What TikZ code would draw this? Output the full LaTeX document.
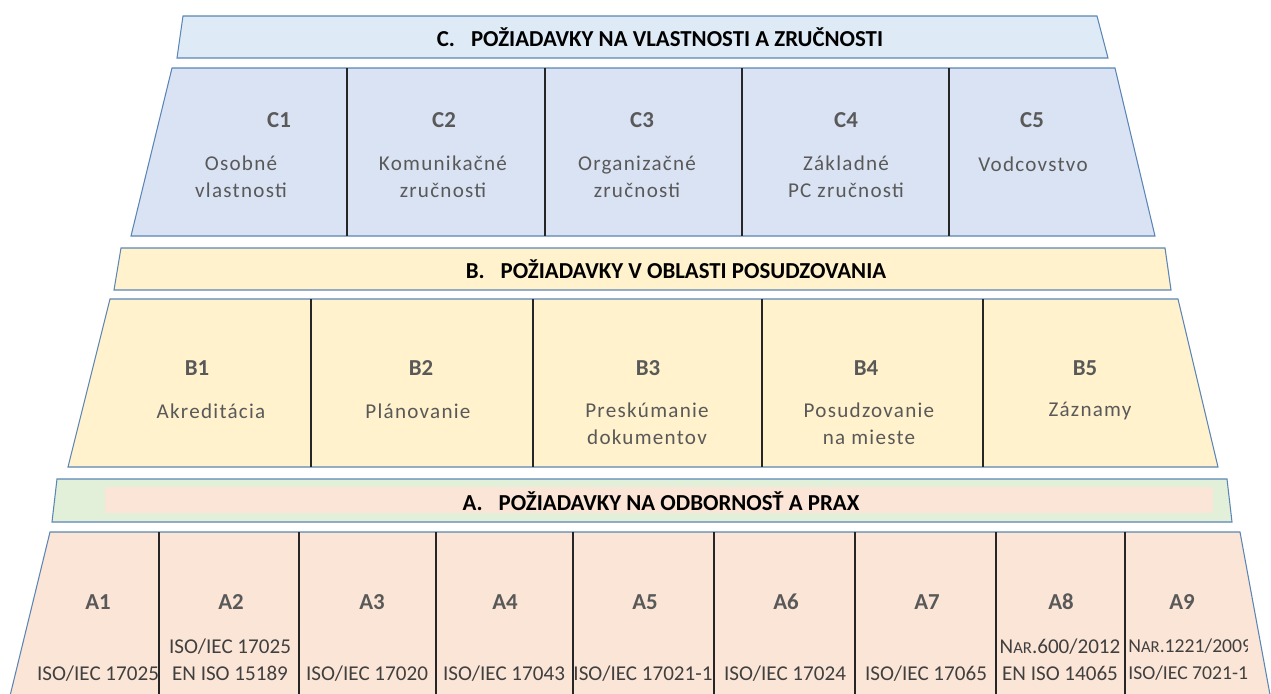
\documentclass[tikz,border=0pt]{standalone}
\usepackage{fontspec}
\setmainfont{Carlito}
\usetikzlibrary{positioning}
\definecolor{hdrC}{HTML}{DEEBF7}
\definecolor{rowC}{HTML}{DAE3F3}
\definecolor{rowB}{HTML}{FFF2CC}
\definecolor{hdrA}{HTML}{E2F0D9}
\definecolor{rowA}{HTML}{FBE5D6}
\definecolor{edge}{HTML}{5B85B5}
\definecolor{txt}{HTML}{595959}
\tikzset{
  band/.style={draw=edge, line width=0.6pt},
  sep/.style={draw=black!85, line width=0.6pt},
  title/.style={font=\fontsize{13}{15}\selectfont\bfseries, text=black},
  code/.style={font=\fontsize{13}{15}\selectfont\bfseries, text=txt},
  desc/.style={font=\fontsize{12}{15.4}\selectfont\addfontfeature{LetterSpace=6}, text=txt, align=center},
  norm/.style={font=\fontsize{12}{15.4}\selectfont, text=black!75, align=center, inner sep=0pt},
}
\newcommand{\nar}{N{\fontsize{9.5}{11}\selectfont AR}}

\begin{document}
\begin{tikzpicture}[x=0.2mm, y=-0.2mm]
  \useasboundingbox (0,0) rectangle (1271,693);
  \clip (0,0) rectangle (1271,693);
  % Bands
  \path[band, fill=hdrC] (183,16) -- (1097,16) -- (1108,58) -- (177,58) -- cycle;
  \path[band, fill=rowC] (172,68) -- (1115,68) -- (1155,236) -- (131,236) -- cycle;
  \path[band, fill=rowB] (121,248) -- (1165,248) -- (1171,290) -- (114,290) -- cycle;
  \path[band, fill=rowB] (110,299) -- (1178,299) -- (1218,467) -- (68,467) -- cycle;
  \path[band, fill=hdrA] (57,479) -- (1227,479) -- (1232,522) -- (52,522) -- cycle;
  \fill[rowA] (105,487) rectangle (1213,513);
  \path[band, fill=rowA] (50,532) -- (1240,532) -- (1271,700) -- (9,700) -- cycle;
  % Separators
  \foreach \x in {347,545,742,949} \draw[sep] (\x,68) -- (\x,236);
  \foreach \x in {311,533,762,983} \draw[sep] (\x,299) -- (\x,467);
  \foreach \x in {159,299,436,573,714,855,996,1125} \draw[sep] (\x,532) -- (\x,700);
  % Headers
  \node[title] (hC) at (660,37) {C.\hspace{0.7em}POŽIADAVKY NA VLASTNOSTI A ZRUČNOSTI};
  \node[title] (hB) at (676,269) {B.\hspace{0.7em}POŽIADAVKY V OBLASTI POSUDZOVANIA};
  \node[title] (hA) at (661,501) {A.\hspace{0.7em}POŽIADAVKY NA ODBORNOSŤ A PRAX};
  % Row C
  \node[code] (C1) at (279,120) {C1};
  \node[code] (C2) at (444,120) {C2};
  \node[code] (C3) at (642,120) {C3};
  \node[code] (C4) at (846,120) {C4};
  \node[code] (C5) at (1032,120) {C5};
  \node[desc] (C1t) at (241,177) {Osobné\\vlastnosti};
  \node[desc] (C2t) at (443,177) {Komunikačné\\zručnosti};
  \node[desc] (C3t) at (637,177) {Organizačné\\zručnosti};
  \node[desc] (C4t) at (846,177) {Základné\\PC zručnosti};
  \node[desc] (C5t) at (1033,164) {Vodcovstvo};
  % Row B
  \node[code] (B1) at (197,368) {B1};
  \node[code] (B2) at (421,368) {B2};
  \node[code] (B3) at (648,368) {B3};
  \node[code] (B4) at (866,368) {B4};
  \node[code] (B5) at (1085,368) {B5};
  \node[desc] (B1t) at (211,411) {Akreditácia};
  \node[desc] (B2t) at (418,411) {Plánovanie};
  \node[desc] (B3t) at (647,424) {Preskúmanie\\dokumentov};
  \node[desc] (B4t) at (869,424) {Posudzovanie\\na mieste};
  \node[desc] (B5t) at (1090,411) {Záznamy};
  % Row A
  \foreach \i/\x in {1/98,2/231,3/372,4/505,5/645,6/786,7/927,8/1061,9/1182}
    \node[code] (A\i) at (\x,602) {A\i};
  \node[norm] (A1t) at (98,674) {ISO/IEC 17025};
  \node[norm] (A2t) at (230,660) {ISO/IEC 17025\\EN ISO 15189};
  \node[norm] (A3t) at (367,674) {ISO/IEC 17020};
  \node[norm] (A4t) at (504,674) {ISO/IEC 17043};
  \node[norm] (A5t) at (643,674) {ISO/IEC 17021-1};
  \node[norm] (A6t) at (785,674) {ISO/IEC 17024};
  \node[norm] (A7t) at (926,674) {ISO/IEC 17065};
  \node[norm] (A8t) at (1060,660) {\nar.600/2012\\EN ISO 14065};
  \begin{scope}
    \clip (1126,632) rectangle (1247,693);
    \node[norm, align=left, anchor=west, font=\fontsize{11.2}{15.4}\selectfont] (A9t) at (1128,660) {\nar.1221/2009\\ISO/IEC 7021-1};
  \end{scope}
\end{tikzpicture}
\end{document}
